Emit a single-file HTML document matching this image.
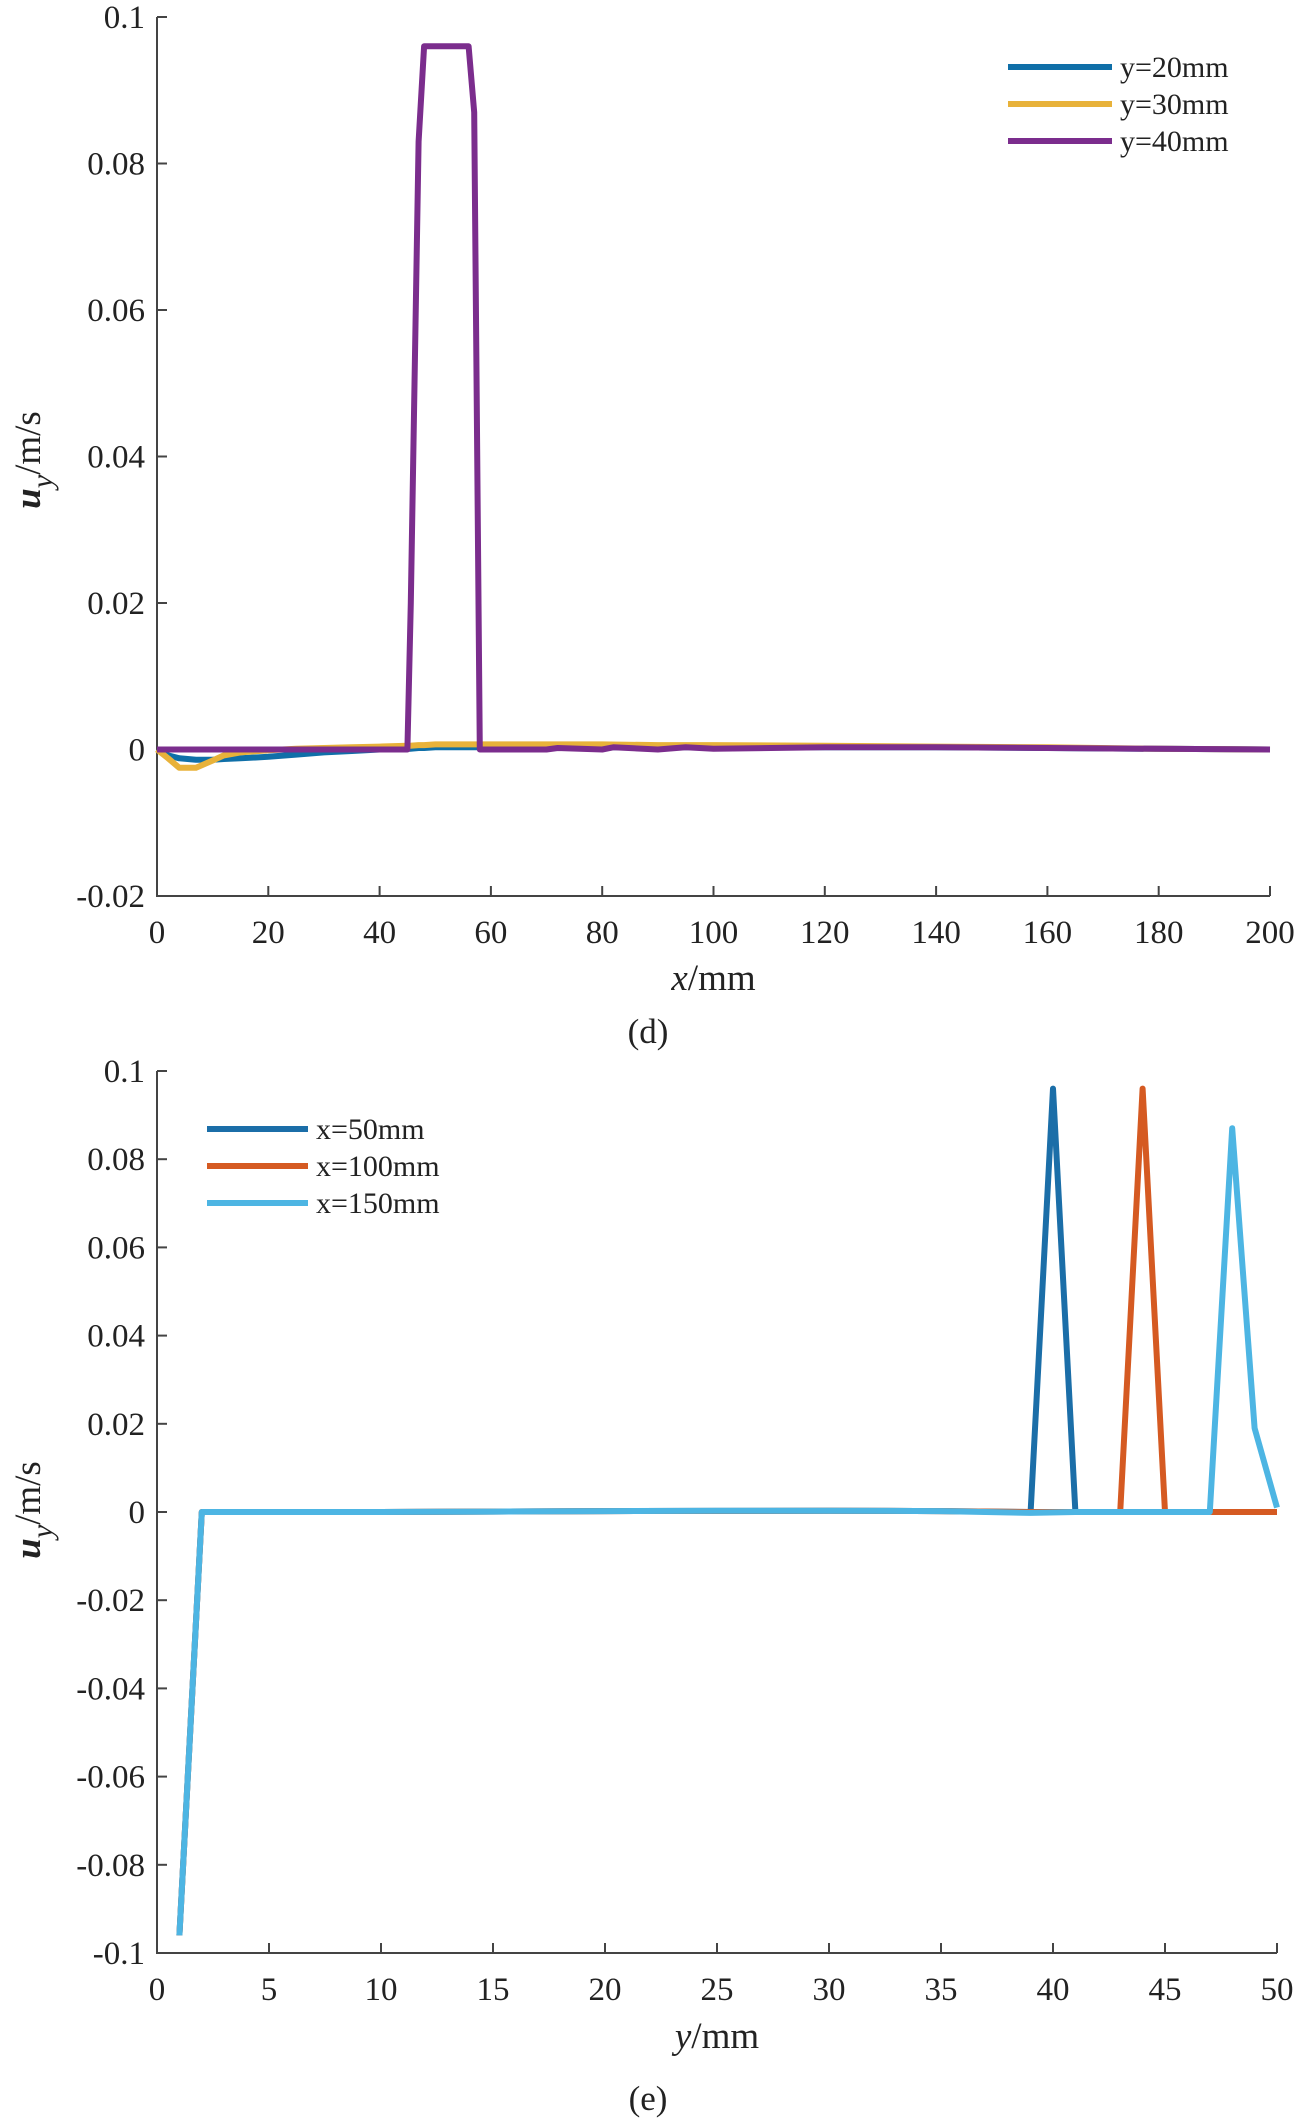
<!DOCTYPE html>
<html><head><meta charset="utf-8">
<style>
html,body{margin:0;padding:0;background:#fff;}
svg{display:block;}
text{font-family:"Liberation Serif",serif;fill:#222;}
.tick{font-size:33px;}
</style></head>
<body>
<svg id="svg" width="1300" height="2125" viewBox="0 0 1300 2125" xmlns="http://www.w3.org/2000/svg"></svg>
<script>
// ---- Chart (d) data ----
const dX = [0,2,4,7,10,12,15,20,25,30,35,40,45,45.5,47,48,50,54,56,57,58,60,70,80,90,100,120,140,160,180,200];
const dBlue = [0,-0.0008,-0.0012,-0.0014,-0.0014,-0.0013,-0.0012,-0.001,-0.0007,-0.0004,-0.0002,0,0.0001,0.0001,0.0002,0.0002,0.0003,0.0003,0.0003,0.0003,0.0003,0.0003,0.0003,0.0003,0.0003,0.0003,0.0003,0.0003,0.0002,0.0001,0];
const dYellow = [0,-0.0012,-0.0025,-0.0025,-0.0015,-0.0008,-0.0004,-0.0001,0.0001,0.0002,0.0003,0.0004,0.0005,0.0005,0.0006,0.0006,0.0007,0.0007,0.0007,0.0007,0.0007,0.0007,0.0007,0.0007,0.0006,0.0006,0.0005,0.0004,0.0003,0.0001,0];
const dPurpleX = [0,10,20,30,40,45,45.6,47,48,50,54,56,57,58,60,70,72,80,82,90,95,100,120,140,160,180,200];
const dPurple = [0,0,0,0,0,0,0.02,0.083,0.096,0.096,0.096,0.096,0.087,0,0,0,0.0002,0,0.0003,0,0.0003,0.0001,0.0003,0.0003,0.0002,0.0001,0];
const dXTicks = [0,20,40,60,80,100,120,140,160,180,200];
const dYTicks = [-0.02,0,0.02,0.04,0.06,0.08,0.1];
const dYLabels = ["-0.02","0","0.02","0.04","0.06","0.08","0.1"];
const dLegend = ["y=20mm","y=30mm","y=40mm"];
// ---- Chart (e) data ----
const eXTicks = [0,5,10,15,20,25,30,35,40,45,50];
const eYTicks = [-0.1,-0.08,-0.06,-0.04,-0.02,0,0.02,0.04,0.06,0.08,0.1];
const eYLabels = ["-0.1","-0.08","-0.06","-0.04","-0.02","0","0.02","0.04","0.06","0.08","0.1"];
const eDarkX = [1,2,5,10,20,30,35,39,40,41,45,50];
const eDark = [-0.096,0,0,0,0.0002,0.0003,0.0002,0,0.096,0,0,0];
const eOrangeX = [1,2,5,10,20,30,35,39,43,44,45,50];
const eOrange = [-0.096,0,0,0,0.0002,0.0003,0.0002,0,0,0.096,0,0];
const eLightX = [1,2,5,10,15,20,25,30,35,39,41,45,47,48,49,50];
const eLight = [-0.096,0,0,0,0.0001,0.0002,0.0003,0.0003,0.0002,-0.0002,0,0,0,0.087,0.019,0.001];
const eLegend = ["x=50mm","x=100mm","x=150mm"];

const NS="http://www.w3.org/2000/svg";
const svg=document.getElementById('svg');
function el(tag,attrs,parent){const e=document.createElementNS(NS,tag);for(const k in attrs)e.setAttribute(k,attrs[k]);(parent||svg).appendChild(e);return e;}

function chart(cfg){
  const g=el('g',{});
  
  
  const sx=v=>cfg.x0+(v-cfg.xmin)/(cfg.xmax-cfg.xmin)*(cfg.x1-cfg.x0);
  const sy=v=>cfg.y1-(v-cfg.ymin)/(cfg.ymax-cfg.ymin)*(cfg.y1-cfg.y0);
  const ax=el('path',{d:`M${cfg.x0},${cfg.y0} V${cfg.y1} H${cfg.x1}`,fill:'none',stroke:'#444','stroke-width':2},g);
  
  
  cfg.xticks.forEach(t=>{
    el('line',{x1:sx(t),x2:sx(t),y1:cfg.y1,y2:cfg.y1-10,stroke:'#444','stroke-width':2},g);
    const tx=el('text',{x:sx(t),y:cfg.y1+47,'text-anchor':'middle',class:'tick'},g);
    tx.textContent=t;
    
    
  });
  cfg.yticks.forEach((t,i)=>{
    el('line',{x1:cfg.x0,x2:cfg.x0+10,y1:sy(t),y2:sy(t),stroke:'#444','stroke-width':2},g);
    const tx=el('text',{x:cfg.x0-12,y:sy(t)+11,'text-anchor':'end',class:'tick'},g);
    tx.textContent=cfg.ylabels[i];
    
    
  });
  cfg.series.forEach((s,i)=>{
    const d=s.x.map((v,j)=>(j?'L':'M')+sx(v).toFixed(1)+','+sy(s.y[j]).toFixed(1)).join(' ');
    const p=el('path',{d,fill:'none',stroke:s.color,'stroke-width':6,'stroke-linejoin':'round'},g);
    
    
  });
  cfg.series.forEach((s,i)=>{
    const ly=cfg.legY+i*cfg.legDy;
    const ln=el('line',{x1:cfg.legX,x2:cfg.legX+cfg.legW,y1:ly,y2:ly,stroke:s.color,'stroke-width':6},g);
    
    
    const t=el('text',{x:cfg.legX+cfg.legW+8,y:ly+10,style:'font-size:30px'},g);
    t.textContent=s.label;
    
    
  });
  const xt=el('text',{x:(cfg.x0+cfg.x1)/2,y:cfg.xtY,'text-anchor':'middle',style:'font-size:37px'},g);
  xt.innerHTML='<tspan font-style="italic">'+cfg.xvar+'</tspan>/mm';
  
  
  const yt=el('text',{transform:`translate(${cfg.ytX},${cfg.ytY}) rotate(-90)`,'text-anchor':'middle',style:'font-size:37px'},g);
  yt.innerHTML='<tspan font-style="italic" font-weight="bold">u</tspan><tspan font-style="italic" dy="12" font-size="30">y</tspan><tspan dy="-12">/m/s</tspan>';
  
  
  const cap=el('text',{x:cfg.capX,y:cfg.capY,'text-anchor':'middle',style:'font-size:35px'},g);
  cap.textContent=cfg.caption;
  
  
}

chart({name:'chart-d',x0:157,x1:1270,y0:17,y1:896,xmin:0,xmax:200,ymin:-0.02,ymax:0.1,
  xticks:dXTicks,yticks:dYTicks,ylabels:dYLabels,xvar:'x',xtY:990,ytX:40,ytY:460,capX:648,capY:1043,caption:'(d)',
  legX:1008,legY:67,legDy:37,legW:104,
  series:[{x:dX,y:dBlue,color:'#0f6fa8',label:dLegend[0]},{x:dX,y:dYellow,color:'#e8b23a',label:dLegend[1]},{x:dPurpleX,y:dPurple,color:'#7b2d8d',label:dLegend[2]}]});

chart({name:'chart-e',x0:157,x1:1277,y0:1071,y1:1953,xmin:0,xmax:50,ymin:-0.1,ymax:0.1,
  xticks:eXTicks,yticks:eYTicks,ylabels:eYLabels,xvar:'y',xtY:2048,ytX:40,ytY:1510,capX:648,capY:2110,caption:'(e)',
  legX:207,legY:1129,legDy:37,legW:101,
  series:[{x:eDarkX,y:eDark,color:'#1b6ea8',label:eLegend[0]},{x:eOrangeX,y:eOrange,color:'#d55a22',label:eLegend[1]},{x:eLightX,y:eLight,color:'#4db5e3',label:eLegend[2]}]});
</script>
</body></html>
